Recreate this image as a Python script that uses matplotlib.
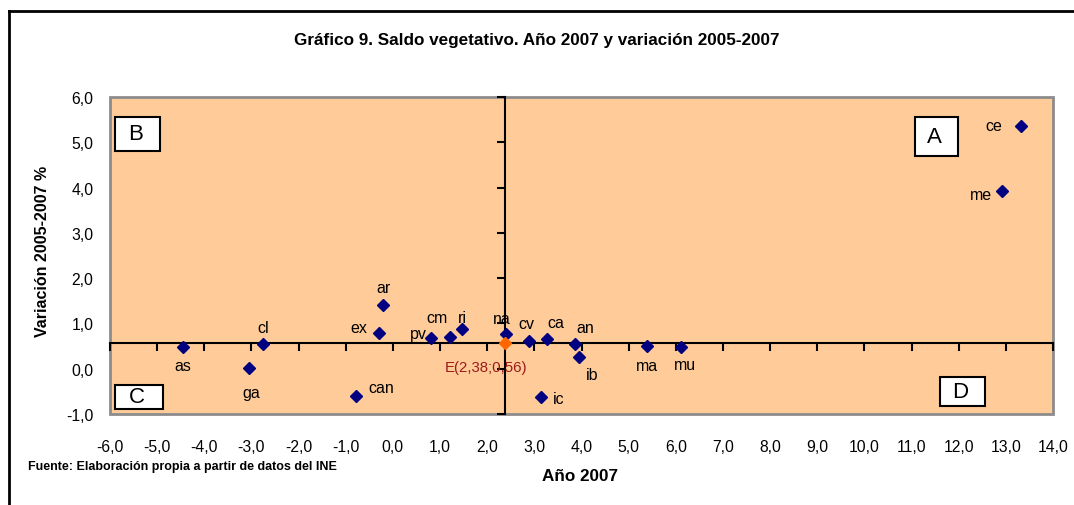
import matplotlib
matplotlib.use("Agg")
from matplotlib import pyplot as plt
from matplotlib.patches import Rectangle
from matplotlib.lines import Line2D

plt.rcParams['font.family'] = ['Liberation Sans', 'DejaVu Sans']

# data
names = ["as", "ga", "cl", "ar", "ex", "can", "pv", "cm", "ri", "na",
         "cv", "ca", "an", "ib", "ic", "ma", "mu", "ce", "me"]
saldo_2007 = [-4.46, -3.06, -2.75, -0.22, -0.29, -0.79, 0.80, 1.21, 1.46, 2.39,
              2.88, 3.26, 3.86, 3.94, 3.14, 5.38, 6.11, 13.33, 12.91]
var_05_07 = [0.47, 0.01, 0.54, 1.40, 0.78, -0.60, 0.68, 0.71, 0.87, 0.77,
             0.61, 0.66, 0.54, 0.26, -0.62, 0.50, 0.48, 5.37, 3.93]
esp_x, esp_y = 2.38, 0.56
x_ticks = [-6, -5, -4, -3, -2, -1, 0, 1, 2, 3, 4, 5, 6, 7, 8, 9, 10, 11, 12, 13, 14]
y_ticks = [-1, 0, 1, 2, 3, 4, 5, 6]

# label offsets in pixels
offsets = {"as": (0, -18), "ga": (3, -24), "cl": (0, 17), "ar": (1, 18),
           "ex": (-20, 6), "can": (26, 8), "pv": (-12, 4), "cm": (-13, 19),
           "ri": (1, 12), "na": (-4, 15), "cv": (-2, 18), "ca": (9, 16),
           "an": (10, 17), "ib": (13, -18), "ic": (18, -2), "ma": (0, -19),
           "mu": (4, -18), "ce": (-28, 0), "me": (-21, -4)}

fig = plt.figure(figsize=(10.74, 5.06), dpi=100)
ax = fig.add_axes([110/1074, 91/506, 943/1074, 317/506])
ax.set_xlim(-6, 14)
ax.set_ylim(-1, 6)
ax.patch.set_facecolor("#FFCC99")
ax.patch.set_edgecolor("#8C8C8C")
ax.patch.set_linewidth(2)

# crossing axes at Spain's value
for s in ["top", "right"]:
    ax.spines[s].set_visible(False)
ax.spines["bottom"].set_position(("data", esp_y))
ax.spines["left"].set_position(("data", esp_x))
for s in ["bottom", "left"]:
    ax.spines[s].set_linewidth(1.5)
    ax.spines[s].set_zorder(1)
ax.set_xticks(x_ticks)
ax.set_yticks(y_ticks)
ax.tick_params(direction="out", length=6, width=1.5, labelbottom=False, labelleft=False)

fmt = lambda v: f"{v:.1f}".replace(".", ",")
sx = ax.secondary_xaxis(0.0)
sx.set_xticks(x_ticks, [fmt(v) for v in x_ticks])
sx.tick_params(length=0, pad=18, labelsize=11.3)
sx.spines["bottom"].set_visible(False)
sy = ax.secondary_yaxis(0.0)
sy.set_yticks(y_ticks, [fmt(v) for v in y_ticks])
sy.tick_params(length=0, pad=12, labelsize=11.3)
sy.spines["left"].set_visible(False)

ax.plot(saldo_2007, var_05_07, "D", color="#000080", ms=6.5, zorder=3)
ax.plot([esp_x], [esp_y], "D", color="#FF6600", ms=6.5, zorder=4)

for n, x, y in zip(names, saldo_2007, var_05_07):
    ax.annotate(n, (x, y), xytext=offsets[n], textcoords="offset pixels",
                ha="center", va="center", fontsize=11.5)
ax.annotate("E(2,38;0,56)", (esp_x, esp_y), xytext=(-19, -24), textcoords="offset pixels",
            ha="center", va="center", fontsize=10.8, color="#9B1B1B")

# quadrant boxes
boxes = {"B": (0.0053, 0.8297, 0.0477, 0.1073), "C": (0.0053, 0.0158, 0.0509, 0.0757),
         "A": (0.8537, 0.8139, 0.0456, 0.123), "D": (0.8802, 0.0252, 0.0477, 0.0915)}
for k, (bx, by, bw, bh) in boxes.items():
    ax.add_patch(Rectangle((bx, by), bw, bh, transform=ax.transAxes, facecolor="white",
                           edgecolor="black", lw=1.5, zorder=5))
    ax.text(bx + bw*0.45, by + bh/2, k, transform=ax.transAxes, ha="center", va="center",
            fontsize=16, zorder=6)

fig.text(537/1074, 1 - 40/506, "Gráfico 9. Saldo vegetativo. Año 2007 y variación 2005-2007",
         ha="center", va="center", fontsize=12.3, fontweight="bold")
fig.text(43/1074, 1 - 251/506, "Variación 2005-2007 %", rotation=90, ha="center", va="center",
         fontsize=11.5, fontweight="bold")
fig.text(580/1074, 1 - 477/506, "Año 2007", ha="center", va="center", fontsize=12.3, fontweight="bold")
fig.text(28/1074, 1 - 467/506, "Fuente: Elaboración propia a partir de datos del INE",
         ha="left", va="center", fontsize=9, fontweight="bold")

# outer frame (left and top only visible)
fig.add_artist(Line2D([8.5/1074, 8.5/1074], [0, 1 - 12/506], color="black", lw=2))
fig.add_artist(Line2D([8.5/1074, 1], [1 - 12/506, 1 - 12/506], color="black", lw=2))

fig.savefig("out.png", dpi=100)
